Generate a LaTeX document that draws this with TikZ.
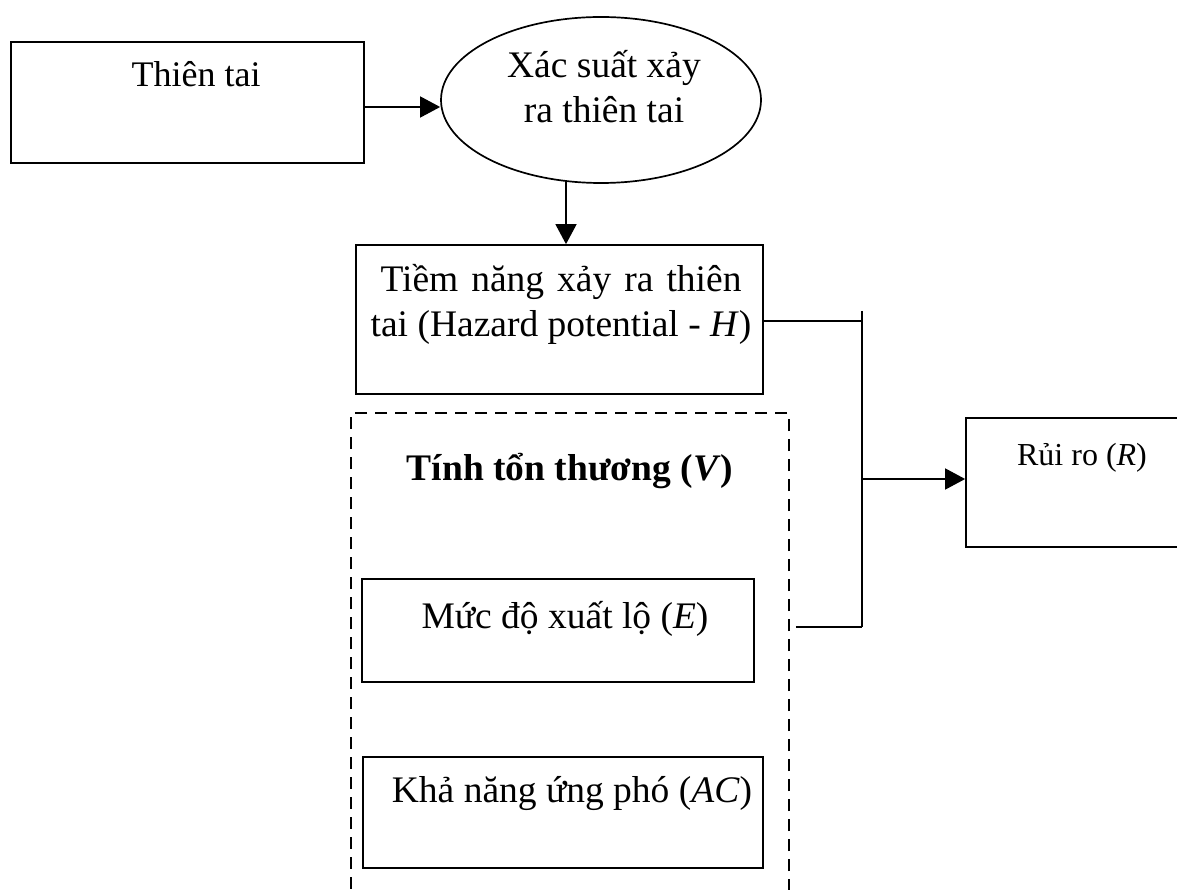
\documentclass[tikz,border=0pt]{standalone}
\usepackage{fontspec}
\setmainfont{Liberation Serif}
\usetikzlibrary{arrows.meta,shapes.geometric}
\begin{document}
\begin{tikzpicture}[x=1pt,y=-1pt,
  box/.style={draw,line width=1.7pt,rectangle,inner sep=0pt},
  dbox/.style={draw,line width=1.9pt,dash pattern=on 12pt off 8pt,rectangle,inner sep=0pt},
  oval/.style={draw,line width=1.7pt,ellipse,inner sep=0pt},
  lbl/.style={anchor=base,align=center,inner sep=0pt,font=\fontsize{37.5}{45}\selectfont},
  link/.style={line width=1.5pt},
  arr/.style={link,-{Triangle[length=20pt,width=21pt]}},
]
\useasboundingbox (0,0) rectangle (1177,890);
\clip (0,0) rectangle (1177,890);
\fill[white] (0,0) rectangle (1177,890);

% boxes
\node[box,minimum width=353pt,minimum height=121pt] (thien) at (187.5,102.5) {};
\node[oval,minimum width=320pt,minimum height=166pt] (ell) at (601,100) {};
\node[box,minimum width=407pt,minimum height=149pt] (tiem) at (559.5,319.5) {};
\node[dbox,minimum width=438pt,minimum height=500pt] (vul) at (570,663) {};
\node[box,minimum width=392pt,minimum height=103pt] (expo) at (558,630.5) {};
\node[box,minimum width=400pt,minimum height=111pt] (cap) at (563,812.5) {};
\node[box,minimum width=240pt,minimum height=129pt] (rui) at (1086,482.5) {};

% labels (base anchor of a two-line label sits on its last line)
\node[lbl,font=\fontsize{36}{43}\selectfont] (tThien) at (196,87) {Thiên tai};
\node[lbl] (tEll) at (604,123) {Xác suất xảy\\ra thiên tai};
\node[lbl] (tTiem) at (561,337) {\makebox[361pt][s]{Tiềm năng xảy ra thiên}\\tai (Hazard potential - \textit{H})};
\node[lbl] (tVul) at (570,480) {\textbf{Tính tổn thương (\textit{V})}};
\node[lbl] (tExpo) at (565,628) {Mức độ xuất lộ (\textit{E})};
\node[lbl] (tCap) at (572,802) {Khả năng ứng phó (\textit{AC})};
\node[lbl,font=\fontsize{32}{38}\selectfont] (tRui) at (1082,465) {Rủi ro (\textit{R})};

% connectors
\draw[arr] ([yshift=-4.5pt]thien.east) -- ([yshift=-7pt]ell.west);
\draw[arr] ([xshift=-35pt,yshift=2pt]ell.south) coordinate (d1) -- (d1 |- tiem.north);

\coordinate (jt) at (862,311);
\coordinate (jb) at (862,627);
\coordinate (vr) at ([xshift=6pt]vul.east);
\draw[link] (jt) -- (jb);
\draw[link] ([yshift=-1.5pt]tiem.east) coordinate (h1) -- (h1 -| jt);
\draw[link] (vr |- jb) -- (jb);
\draw[arr] ([yshift=3.5pt]jt |- rui.west) coordinate (h2) -- (h2 -| rui.west);
\end{tikzpicture}
\end{document}
